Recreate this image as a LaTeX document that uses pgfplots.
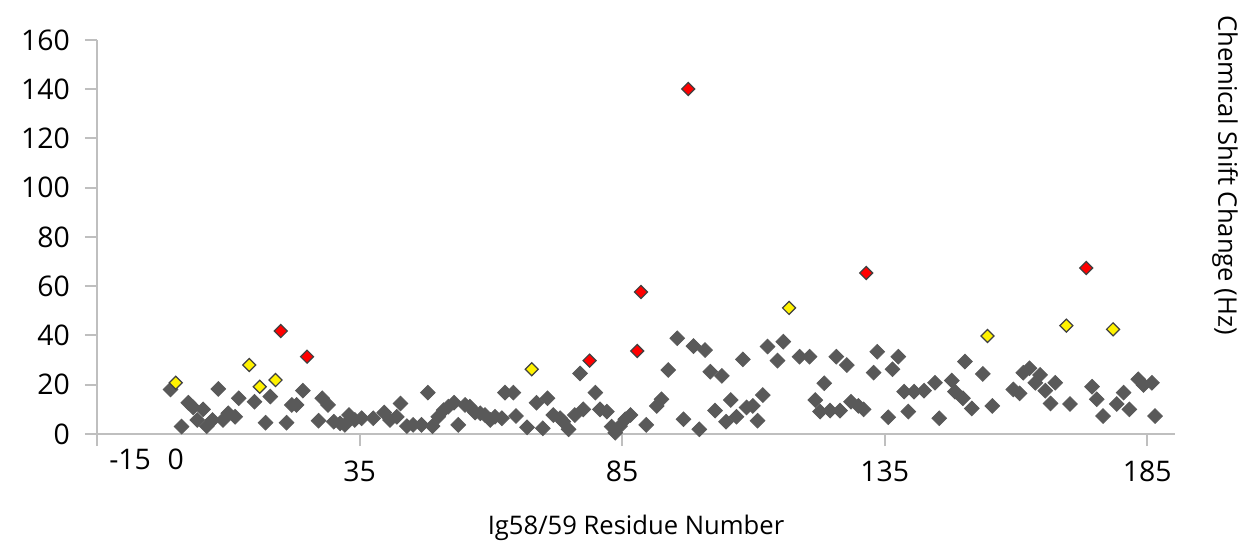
\documentclass[border=0pt]{standalone}
\usepackage{pgfplots}
\pgfplotsset{compat=1.18}
\usepackage{fontspec}
\setmainfont{Open Sans}
\definecolor{mgray}{HTML}{595959}
\definecolor{medge}{HTML}{404040}
\definecolor{axgray}{HTML}{BFBFBF}
\begin{document}
\begin{tikzpicture}
\useasboundingbox (-48.5pt,-55.5pt) rectangle (572pt,217pt);
\begin{axis}[
  at={(0,0)}, anchor=south west,
  scale only axis, width=539pt, height=197pt,
  xmin=-15, xmax=190.3, ymin=0, ymax=160,
  axis x line*=bottom, axis y line*=left,
  axis line style={draw=axgray, line width=1pt, -},
  tick style={draw=axgray, line width=1pt},
  tick align=outside, major tick length=6pt,
  xtick={-15,35,85,135,185}, xticklabels={,35,85,135,185},
  extra x ticks={-8.7,0}, extra x tick labels={-15,0},
  extra x tick style={major tick length=0pt},
  ytick={0,20,...,160},
  font=\fontsize{12.8}{15}\selectfont,
  ticklabel style={font=\fontsize{14.2}{16.5}\selectfont},
  xticklabel style={yshift=-4pt},
  yticklabel style={xshift=-4pt},
  /pgf/number format/assume math mode=true,
  xlabel={Ig58/59 Residue Number},
  xlabel style={yshift=-3.5pt},
  clip=false,
]
\addplot[only marks, mark=square*, mark size=2.6pt, mark options={rotate=45, fill=mgray, draw=mgray}] coordinates {
(-1,18.1)(1.1,3)(2.4,12.7)(3.3,10.8)(4.1,5.7)(5.2,10)(5.9,3.2)(7,5.7)(8.1,18.3)(9,5.7)(10,8.4)(11.3,7)(12,14.5)(15,13.1)(17.1,4.6)(18,15.2)(21.1,4.6)(22.1,11.8)(23,11.8)(24.2,17.6)(27.2,5.4)(27.9,14.5)(29,11.8)(30.1,5)(31.3,4.3)(32.2,3.7)(33,7.7)(34.1,5.7)(35.4,6.4)(37.6,6.4)(39.7,8.7)(40.8,5.7)(42.1,7)(42.8,12.4)(44,3.2)(45.2,3.7)(46.8,3.7)(48,16.8)(48.9,3.2)(50,7)(51,9.7)(51.9,11.1)(53,12.7)(53.8,3.7)(55.1,11.8)(56,11.1)(57,8.7)(58,8.4)(58.9,7.7)(59.9,5.7)(60.8,7)(62.1,6.4)(62.7,16.8)(64.3,16.8)(64.8,7.3)(66.9,2.7)(68.7,12.7)(69.9,2.3)(70.8,14.5)(71.9,7.7)(73.2,6.4)(73.8,5)(74.8,1.9)(76,7.7)(77,24.6)(77.6,10)(79.9,16.8)(80.8,10)(82.1,9.1)(83,3)(83.7,0.5)(84.6,3.2)(85.6,6)(86.6,7.7)(89.6,3.7)(91.6,11.4)(92.5,14.1)(93.8,26)(95.5,38.9)(96.7,6)(98.6,35.7)(99.7,1.9)(100.8,34.1)(101.8,25.3)(102.7,9.5)(104,23.6)(104.8,5)(105.7,13.8)(106.8,7)(108,30.3)(108.7,10.8)(109.9,11.4)(110.8,5.4)(111.8,15.8)(112.7,35.5)(114.6,29.8)(115.7,37.5)(118.8,31.4)(120.7,31.4)(121.8,13.8)(122.7,9.1)(123.5,20.6)(124.6,9.5)(125.8,31.4)(126.5,9.5)(127.8,28)(128.6,13.1)(130,11.4)(131,10)(132.9,24.9)(133.6,33.4)(135.7,6.8)(136.5,26.3)(137.6,31.4)(138.7,17.2)(139.5,9.1)(140.6,17.2)(142.5,17.6)(144.6,20.8)(145.4,6.4)(147.8,21.7)(148.4,17.2)(149.9,14.5)(150.3,29.4)(151.6,10.4)(153.7,24.4)(155.5,11.4)(159.5,18.1)(160.7,16.5)(161.4,24.9)(162.6,26.7)(163.7,20.8)(164.6,24)(165.6,17.6)(166.6,12.4)(167.5,20.8)(170.3,12.2)(174.5,19.2)(175.4,14.1)(176.6,7.3)(179.2,12.2)(180.5,16.8)(181.6,10)(183.3,22.2)(184.3,19.9)(185.9,20.8)(186.5,7.3)
};
\addplot[only marks, mark=square*, mark size=2.3pt, mark options={rotate=45, fill=yellow, draw=medge, line width=0.6pt}] coordinates {
(0,20.8)(14,28)(16,19.2)(19,21.9)(67.8,26.3)(116.8,51.2)(154.6,39.8)(169.6,44)(178.5,42.5)
};
\addplot[only marks, mark=square*, mark size=2.3pt, mark options={rotate=45, fill=red, draw=medge, line width=0.6pt}] coordinates {
(20,41.8)(25,31.4)(78.8,29.8)(87.9,33.7)(88.6,57.7)(97.6,140.1)(131.5,65.4)(173.4,67.4)
};
\end{axis}
\node[rotate=-90, font=\fontsize{12.8}{15}\selectfont] at (564pt,129.5pt) {Chemical Shift Change (Hz)};
\end{tikzpicture}
\end{document}
